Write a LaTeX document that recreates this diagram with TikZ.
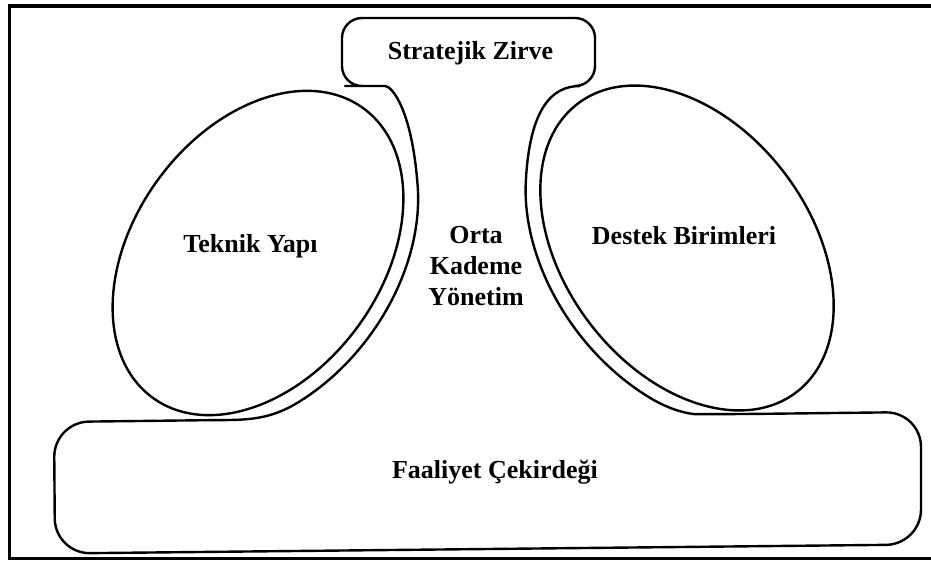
\documentclass[tikz,border=0pt]{standalone}
\usepackage{fontspec}
\setmainfont{Liberation Serif}
\begin{document}
\begin{tikzpicture}[
    x=1pt, y=1pt,
    outline/.style={line width=2.4pt, line join=round},
    frame/.style={line width=3.5pt},
    lbl/.style={font=\fontsize{26}{31}\selectfont\bfseries, align=center, inner sep=0pt}
  ]
  \useasboundingbox (0,0) rectangle (931,560);
  % page frame, open on the right
  \draw[frame] (931,554) -- (9.5,554) -- (9.5,1.75) -- (931,1.75);
  % one outline: core, both flanks, apex
  \draw[outline]
    (215,139.9) [rounded corners=35pt] -- (54,138) -- (55,6.5) -- (921,15.5) -- (921,148) -- (730,145.8) [sharp corners]
    to[out=180, in=-31] (650.55,161.83)
    -- plot[domain=300:220, samples=40, variable=\t] ({687+117.95*cos(\t)+110.2*sin(\t)}, {312-156.5*cos(\t)+83.05*sin(\t)})
    .. controls (529.7,453.5) and (553,474) .. (580,474)
    [rounded corners=20pt] -- (595,474) -- (595,542) -- (342,542) -- (342,474) -- (365,474) [sharp corners]
    .. controls (392,474) and (412,450) .. (417.6,374.7)
    -- plot[domain=-40:-120, samples=40, variable=\t] ({258+114.03*cos(\t)-112.45*sin(\t)}, {307+156.95*cos(\t)+81.7*sin(\t)})
    to[out=211.5, in=0] (215,139.9) -- cycle;
  % technostructure and support staff
  \draw[outline, rotate around={54:(258,307)}] (258,307) ellipse [x radius=179, y radius=124];
  \draw[outline, rotate around={-53:(687,312)}] (687,312) ellipse [x radius=181, y radius=123];
  \node[lbl, anchor=base] (apex) at (470.5,500.5) {Stratejik Zirve};
  \node[lbl, anchor=base] (tech) at (250.5,307) {Teknik Yapı};
  \node[lbl, anchor=base] (support) at (684,315) {Destek Birimleri};
  \node[lbl] (middle) at (476,294.4) {Orta\\ Kademe\\ Yönetim};
  \node[lbl, anchor=base] (core) at (495,82) {Faaliyet Çekirdeği};
\end{tikzpicture}
\end{document}
